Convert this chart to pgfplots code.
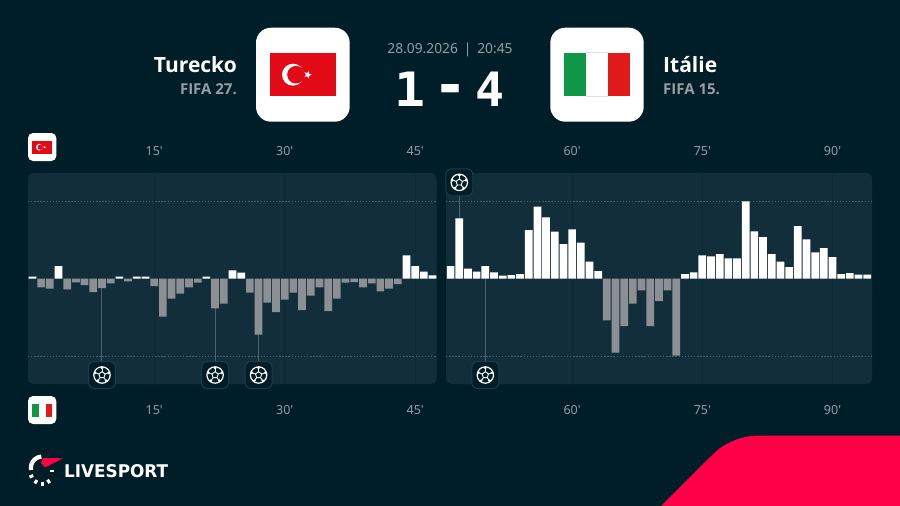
\documentclass[border=0pt]{standalone}
\usepackage{pgfplots}
\pgfplotsset{compat=1.18}
\usepackage{fontspec}
\setmainfont{Noto Sans}
\newfontfamily\headfont{Open Sans}
\newfontfamily\scorefont{DejaVu Sans Mono}
\newfontfamily\logofont{DejaVu Sans}
\usetikzlibrary{shapes.geometric}
\definecolor{bgc}{HTML}{001E28}
\definecolor{panelc}{HTML}{122E3A}
\definecolor{barg}{HTML}{8C9094}
\definecolor{txtg}{HTML}{939FA5}
\definecolor{lsred}{HTML}{FF0046}
\definecolor{dotc}{HTML}{45606B}
\definecolor{vgrid}{HTML}{0F2833}
\definecolor{stemc}{HTML}{4F646E}
\definecolor{goalb}{HTML}{1F3B47}
\definecolor{trred}{HTML}{E30A17}
\definecolor{itgreen}{HTML}{0F9647}
\definecolor{itred}{HTML}{E11B1B}
\pgfdeclareplotmark{goalball}{%
  \pgfpathmoveto{\pgfpoint{-7.5pt}{-13.5pt}}%
  \pgfpathlineto{\pgfpoint{7.5pt}{-13.5pt}}%
  \pgfpatharc{-90}{0}{6pt}%
  \pgfpathlineto{\pgfpoint{13.5pt}{7.5pt}}%
  \pgfpatharc{0}{90}{6pt}%
  \pgfpathlineto{\pgfpoint{-7.5pt}{13.5pt}}%
  \pgfpatharc{90}{180}{6pt}%
  \pgfpathlineto{\pgfpoint{-13.5pt}{-7.5pt}}%
  \pgfpatharc{180}{270}{6pt}%
  \pgfpathclose
  \pgfsetstrokecolor{goalb}\pgfsetfillcolor{bgc}\pgfsetlinewidth{1pt}%
  \pgfusepathqfillstroke
  \pgfsetstrokecolor{white}\pgfsetfillcolor{white}\pgfsetlinewidth{1.2pt}%
  \pgfpathcircle{\pgfpointorigin}{8.2pt}\pgfusepathqstroke
  \pgfsetlinewidth{0.9pt}%
  \foreach \a in {90,162,234,306,18}{%
    \pgfpathmoveto{\pgfpointpolar{\a}{3.3pt}}%
    \pgfpathlineto{\pgfpointpolar{\a}{6pt}}%
    \pgfusepathqstroke
    \pgfpathcircle{\pgfpointpolar{\a}{7.1pt}}{1.5pt}\pgfusepathqfill
  }%
  \pgfpathmoveto{\pgfpointpolar{90}{3.3pt}}%
  \pgfpathlineto{\pgfpointpolar{162}{3.3pt}}%
  \pgfpathlineto{\pgfpointpolar{234}{3.3pt}}%
  \pgfpathlineto{\pgfpointpolar{306}{3.3pt}}%
  \pgfpathlineto{\pgfpointpolar{18}{3.3pt}}%
  \pgfpathclose\pgfusepathqstroke
}
\pgfplotsset{
  panel/.style={
    scale only axis, anchor=south west, clip=false,
    ymin=-316, ymax=317,
    axis line style={draw=none}, tick style={draw=none},
    ytick={-232,232}, yticklabels={},
    ymajorgrids, xmajorgrids,
    major y grid style={dotc, line width=1pt, dash pattern=on 1.4pt off 1.7pt},
    major x grid style={vgrid, line width=0.7pt},
    tick label style={font=\fontsize{12.5}{14}\selectfont, text=txtg},
  },
  labelsonly/.style={
    scale only axis, anchor=south west,
    ymin=-316, ymax=317,
    axis line style={draw=none}, tick style={draw=none},
    ytick=\empty, xticklabel pos=top,
    tick label style={font=\fontsize{12.5}{14}\selectfont, text=txtg},
  },
  barw/.style={ybar, bar width=7.7pt, bar shift=0pt, draw=none, fill=white},
  barn/.style={ybar, bar width=7.7pt, bar shift=0pt, draw=none, fill=barg},
  stem/.style={ycomb, stemc, line width=1pt, mark=none},
  goal/.style={only marks, mark=goalball},
}
\begin{document}
\begin{tikzpicture}[x=1pt,y=-1pt]
\path[use as bounding box] (0,0) rectangle (900,506);
\fill[bgc] (0,0) rectangle (900,506);
% red corner
\fill[lsred, rounded corners=24pt] (631,536) -- (731.6,435.7) -- (950,435.7) -- (950,536) -- cycle;
% header
\node[anchor=east, text=white, inner sep=0pt, font=\headfont\bfseries\fontsize{21}{24}\selectfont] at (237,64.5) {Turecko};
\node[anchor=east, text=txtg, inner sep=0pt, font=\headfont\bfseries\fontsize{15}{17}\selectfont] at (237,89.5) {FIFA 27.};
\node[anchor=west, text=white, inner sep=0pt, font=\headfont\bfseries\fontsize{21}{24}\selectfont] at (663,64.5) {Itálie};
\node[anchor=west, text=txtg, inner sep=0pt, font=\headfont\bfseries\fontsize{15}{17}\selectfont] at (663,89.5) {FIFA 15.};
\node[text=txtg, inner sep=0pt, font=\fontsize{13.8}{15}\selectfont] at (450,49.5) {28.09.2026 \,|\, 20:45};
\node[text=white, inner sep=0pt, anchor=center] at (410,89.5) {\resizebox{31pt}{34.5pt}{\scorefont\bfseries 1}};
\node[text=white, inner sep=0pt, anchor=south] at (450,106) {\resizebox{34pt}{21pt}{\scorefont\bfseries -}};
\node[text=white, inner sep=0pt, anchor=center] at (490,89.5) {\resizebox{29pt}{34.5pt}{\scorefont\bfseries 4}};
% big cards
\fill[white, rounded corners=15pt] (256,27.7) rectangle (349.7,121.7);
\fill[trred] (270,52.7) rectangle (335.7,96.3);
\fill[white] (293,74.7) circle (11);
\fill[trred] (296,74.7) circle (8.8);
\node[star, star points=5, star point ratio=2.4, fill=white, inner sep=0pt, minimum size=8pt, rotate=-90] at (307.7,74.7) {};
\fill[white, rounded corners=15pt] (550.3,27.7) rectangle (643.7,121.7);
\fill[itgreen] (564.3,52.7) rectangle (586.3,96.3);
\fill[itred] (608,52.7) rectangle (630,96.3);
\draw[black!12, line width=0.5pt] (586.3,52.7) -- (608,52.7) (586.3,96.3) -- (608,96.3);
% small cards
\foreach \yy in {133,396}{\fill[white, rounded corners=5pt] (28,\yy) rectangle (56.3,\yy+28);}
\fill[trred] (32.3,140.7) rectangle (52.3,153.7);
\fill[white] (39.3,147.2) circle (3.3);
\fill[trred] (40.2,147.2) circle (2.6);
\node[star, star points=5, star point ratio=2.4, fill=white, inner sep=0pt, minimum size=2.6pt, rotate=-90] at (44.6,147.2) {};
\fill[itgreen] (32.3,403.7) rectangle (39,416.7);
\fill[itred] (45.6,403.7) rectangle (52.3,416.7);
% panels
\fill[panelc, rounded corners=5pt] (28,173) rectangle (436.5,384);
\fill[panelc, rounded corners=5pt] (446,173) rectangle (872,384);
% logo
\draw[white, line width=4.2pt] (31.0,470) arc[start angle=-190, end angle=-95, radius=11.5];
\fill[lsred] (43,458) -- (63.3,458.3) -- (45,467.5) -- (41,463) -- cycle;
\foreach \a in {158,122,90,55}{\draw[white, line width=3pt] (42,472)+(\a:9.5) -- +(\a:13.5);}
\fill[white] (50,470) rectangle (53.8,471.6);
\node[anchor=west, inner sep=0pt, text=white] at (64,471.5) {\resizebox{104pt}{13pt}{\logofont\bfseries LIVESPORT}};
% first half
\begin{axis}[panel, at={(28pt,-384pt)}, width=408.5pt, height=211pt,
  xmin=0.494, xmax=47.45, xtick={15,30,45}, xticklabels={15\textquotesingle,30\textquotesingle,45\textquotesingle},
  x tick label style={yshift=-18pt}]
\addplot[stem] coordinates {(9,-289)(22,-289)(27,-289)};
\addplot[barw] coordinates {(1,6)(4,38)(11,6)(13,6)(14,6)(21,6)(24,25)(25,18)(44,70)(45,38)(46,21)(47,10)};
\addplot[barn] coordinates {(2,-26)(3,-30)(5,-32)(6,-11)(7,-19)(8,-40)(9,-28)(10,-14)(12,-8)(15,-22)(16,-114)(17,-60)(18,-45)(19,-26)(20,-12)(22,-89)(23,-75)(26,-42)(27,-168)(28,-72)(29,-100)(30,-63)(31,-42)(32,-94)(33,-51)(34,-26)(35,-97)(36,-60)(37,-12)(38,-10)(39,-26)(40,-14)(41,-38)(42,-30)(43,-16)};
\addplot[goal] coordinates {(9,-289)(22,-289)(27,-289)};
\end{axis}
\begin{axis}[labelsonly, at={(28pt,-384pt)}, width=408.5pt, height=211pt,
  xmin=0.494, xmax=47.45, xtick={15,30,45}, xticklabels={15\textquotesingle,30\textquotesingle,45\textquotesingle},
  x tick label style={yshift=14pt}]
\end{axis}
% second half
\begin{axis}[panel, at={(446pt,-384pt)}, width=426pt, height=211pt,
  xmin=45.47, xmax=94.55, xtick={60,75,90}, xticklabels={60\textquotesingle,75\textquotesingle,90\textquotesingle},
  x tick label style={yshift=-18pt}]
\addplot[stem] coordinates {(47,289)(50,-289)};
\addplot[barw] coordinates {(46,38)(47,181)(48,30)(49,21)(50,38)(51,19)(52,9)(53,11)(54,14)(55,146)(56,216)(57,184)(58,141)(59,104)(60,148)(61,108)(62,51)(63,23)(73,14)(74,19)(75,70)(76,67)(77,74)(78,61)(79,61)(80,232)(81,142)(82,125)(83,74)(84,51)(85,35)(86,158)(87,118)(88,79)(89,92)(90,65)(91,14)(92,17)(93,12)(94,12)};
\addplot[barn] coordinates {(64,-125)(65,-222)(66,-142)(67,-75)(68,-35)(69,-142)(70,-67)(71,-35)(72,-231)};
\addplot[goal] coordinates {(47,289)(50,-289)};
\end{axis}
\begin{axis}[labelsonly, at={(446pt,-384pt)}, width=426pt, height=211pt,
  xmin=45.47, xmax=94.55, xtick={60,75,90}, xticklabels={60\textquotesingle,75\textquotesingle,90\textquotesingle},
  x tick label style={yshift=14pt}]
\end{axis}
\end{tikzpicture}
\end{document}
